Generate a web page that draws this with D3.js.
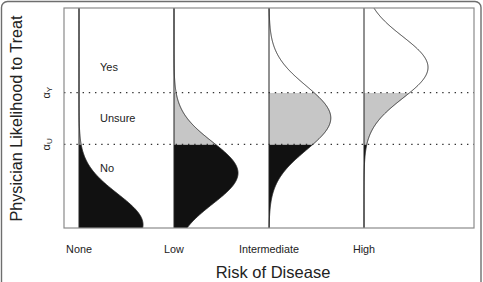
<!DOCTYPE html>
<html lang="en">
<head>
<meta charset="UTF-8">
<title>Physician Likelihood to Treat</title>
<style>
  body { margin: 0; background: #fff; }
  svg text { font-family: "Liberation Sans", Arial, Helvetica, sans-serif; fill: #222; }
</style>
</head>
<body>
<div id="chart"></div>
<script src="https://cdn.jsdelivr.net/npm/d3@7"></script>
<script>
// risk groups and where each group's treatment likelihood is centred (0..1)
const categories = ["None", "Low", "Intermediate", "High"];
const means = [0.015, 0.25, 0.5, 0.73];
const spreads = [0.14, 0.14, 0.145, 0.14];

// decision thresholds on the likelihood axis
const thresholdNames = ["U", "Y"];
const thresholdValues = [0.38, 0.615];

const zoneLabels = ["No", "Unsure", "Yes"];

const [width, height] = [483, 282];
const frame = { left: 64, right: 474, top: 8, bottom: 228 };

const svg = d3.select("#chart").append("svg")
    .attr("width", width)
    .attr("height", height);

// outer rounded border (runs off the bottom edge)
svg.append("rect")
    .attr("x", 1.5).attr("y", 1.5)
    .attr("width", 479.5).attr("height", 310)
    .attr("rx", 6)
    .attr("fill", "none")
    .attr("stroke", "#6e6e6e")
    .attr("stroke-width", 1.4);

const y = d3.scaleLinear().domain([0, 1]).range([frame.bottom, frame.top]);
const x = d3.scalePoint().domain(categories).range([frame.left + 15, frame.left + 15 + 3 * 95]);

const pdf = (v, m, s) => Math.exp(-0.5 * ((v - m) / s) ** 2) / (s * Math.sqrt(2 * Math.PI));
const w = d3.scaleLinear().domain([0, pdf(0, 0, d3.min(spreads))]).range([0, 64]);

svg.append("clipPath").attr("id", "plotclip")
  .append("rect")
    .attr("x", frame.left).attr("y", frame.top)
    .attr("width", frame.right - frame.left).attr("height", frame.bottom - frame.top);

const plot = svg.append("g").attr("clip-path", "url(#plotclip)");

const zones = [
  { lo: 0, hi: thresholdValues[0], fill: "#111" },
  { lo: thresholdValues[0], hi: thresholdValues[1], fill: "#c6c6c6" },
  { lo: thresholdValues[1], hi: 1, fill: "#fff" }
];

categories.forEach((c, i) => {
  const base = x(c);
  const sample = lo => d3.range(lo.lo, lo.hi + 1e-9, 0.002).concat([lo.hi]);
  const area = d3.area()
      .y(v => y(v))
      .x0(base)
      .x1(v => base + w(pdf(v, means[i], spreads[i])));
  zones.forEach(z => {
    plot.append("path")
        .datum(sample(z))
        .attr("d", area)
        .attr("fill", z.fill);
  });
  plot.append("path")
      .datum(sample({ lo: 0, hi: 1 }))
      .attr("d", d3.line().y(v => y(v)).x(v => base + w(pdf(v, means[i], spreads[i]))))
      .attr("fill", "none")
      .attr("stroke", "#222")
      .attr("stroke-width", 0.9);
  plot.append("line")
      .attr("x1", base).attr("x2", base)
      .attr("y1", frame.top).attr("y2", frame.bottom)
      .attr("stroke", "#222")
      .attr("stroke-width", 1);
});

// dotted threshold lines
thresholdValues.forEach(t => {
  svg.append("line")
      .attr("x1", frame.left).attr("x2", frame.right)
      .attr("y1", y(t)).attr("y2", y(t))
      .attr("stroke", "#333")
      .attr("stroke-width", 1.3)
      .attr("stroke-dasharray", "1.4 4.8");
});

// plot frame
svg.append("rect")
    .attr("x", frame.left).attr("y", frame.top)
    .attr("width", frame.right - frame.left).attr("height", frame.bottom - frame.top)
    .attr("fill", "none")
    .attr("stroke", "#8a8a8a")
    .attr("stroke-width", 1.2);

// zone labels
const zoneY = [thresholdValues[0] - 0.11, d3.mean(thresholdValues), thresholdValues[1] + 0.115];
zoneLabels.forEach((l, i) => {
  svg.append("text")
      .attr("x", frame.left + 36)
      .attr("y", y(zoneY[i]))
      .attr("dy", "0.35em")
      .attr("font-size", 11)
      .text(l);
});

// alpha threshold labels
thresholdValues.forEach((t, i) => {
  const tx = svg.append("text")
      .attr("transform", `translate(47,${y(t)}) rotate(-90)`)
      .attr("text-anchor", "middle")
      .attr("dy", "0.3em")
      .attr("font-size", 11);
  tx.append("tspan").text("\u03b1");
  tx.append("tspan").attr("font-size", 8).attr("dy", "0.25em").text(thresholdNames[i]);
});

// category axis labels
svg.append("g").selectAll("text")
  .data(categories)
  .join("text")
    .attr("x", d => x(d))
    .attr("y", 249)
    .attr("dy", "0.35em")
    .attr("text-anchor", "middle")
    .attr("font-size", 10.8)
    .text(d => d);

svg.append("text")
    .attr("x", 273)
    .attr("y", 278)
    .attr("text-anchor", "middle")
    .attr("font-size", 16.5)
    .text("Risk of Disease");

svg.append("text")
    .attr("transform", `translate(22,118.5) rotate(-90)`)
    .attr("text-anchor", "middle")
    .attr("font-size", 16.2)
    .text("Physician Likelihood to Treat");
</script>
</body>
</html>
